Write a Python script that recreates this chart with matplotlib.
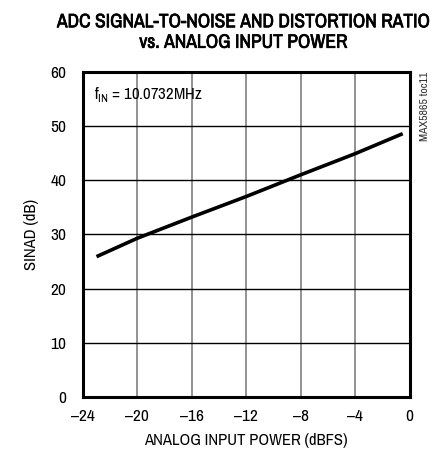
import matplotlib.pyplot as plt
from matplotlib import font_manager
import matplotlib.patheffects as pe

power = [-23, -20, -16, -12, -8, -4, -0.5]
sinad = [25.9, 29.3, 33.2, 37.0, 41.0, 44.9, 48.6]

xticks = [-24, -20, -16, -12, -8, -4, 0]
yticks = [0, 10, 20, 30, 40, 50, 60]


def pick_narrow():
    fl = font_manager.fontManager.ttflist
    for f in fl:
        if 'Narrow' in f.name:
            return f.name, 'normal'
    for f in fl:
        if 'Condensed' in f.name:
            return f.name, 'normal'
    for f in fl:
        if f.name == 'DejaVu Sans' and f.stretch in ('condensed', 'semi-condensed'):
            return 'DejaVu Sans', f.stretch
    return 'Liberation Sans', 'normal'


fam, stretch = pick_narrow()
plt.rcParams['font.family'] = [fam, 'DejaVu Sans']
plt.rcParams['font.stretch'] = stretch

fig = plt.figure(figsize=(4.41, 4.55), dpi=100)
ax = fig.add_axes([0.188, 0.1275, 0.7406, 0.7145])

ax.plot(power, sinad, color='black', linewidth=2.6, solid_capstyle='butt')

ax.set_xlim(-24, 0)
ax.set_ylim(0, 60)
ax.set_xticks(xticks)
ax.set_yticks(yticks)
ax.set_xticklabels(['\u2013' + str(-v) if v < 0 else str(v) for v in xticks])
ax.tick_params(length=0, labelsize=12.5, pad=9)
ax.tick_params(axis='y', pad=12)

for v in xticks[1:-1]:
    ax.axvline(v, color='#808080', linewidth=1.2, zorder=0)
for v in yticks[1:-1]:
    ax.axhline(v, color='black', linewidth=1.0, zorder=0)
for s in ax.spines.values():
    s.set_linewidth(2.2)

ax.set_xlabel('ANALOG INPUT POWER (dBFS)', fontsize=12, labelpad=6)
ax.set_ylabel('SINAD (dB)', fontsize=12, labelpad=8)

ax.text(0.035, 0.93, r'f$_{\mathregular{IN}}$ = 10.0732MHz', transform=ax.transAxes,
        fontsize=12, va='center', ha='left')
fig.text(0.963, 0.843, 'MAX5865 toc11', rotation=90, fontsize=8.5, color='#333333',
         va='top', ha='center')

title = fig.text(0.552, 0.973,
                 'ADC SIGNAL-TO-NOISE AND DISTORTION RATIO\nvs. ANALOG INPUT POWER',
                 fontsize=14, fontweight='bold', ha='center', va='top',
                 linespacing=1.1)
title.set_path_effects([pe.withStroke(linewidth=0.5, foreground='black')])

fig.savefig('out.png', dpi=100)
